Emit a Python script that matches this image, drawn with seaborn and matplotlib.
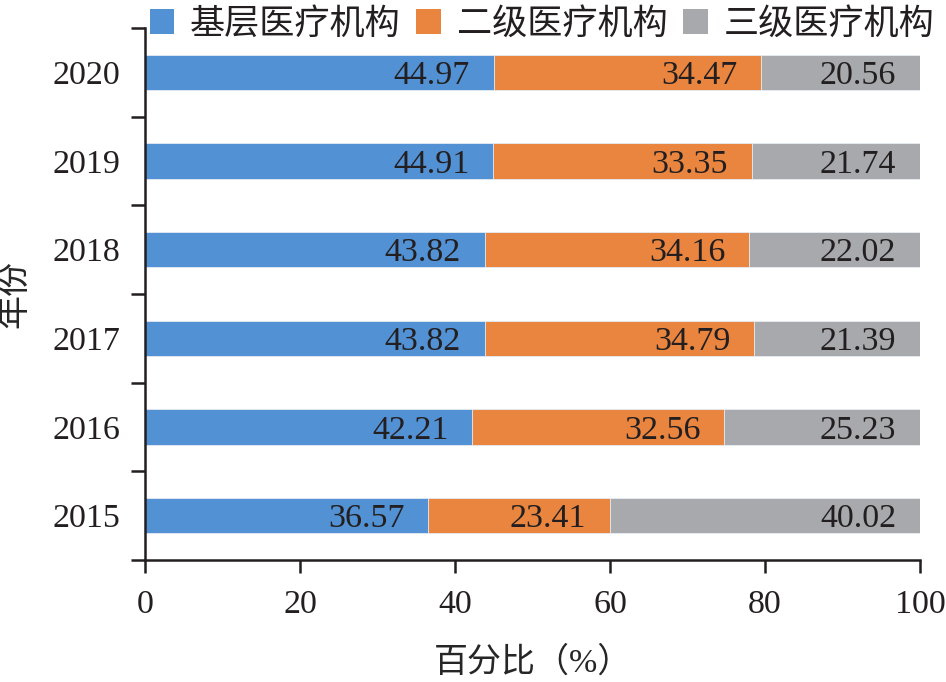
import matplotlib
matplotlib.use("Agg")
import matplotlib.pyplot as plt
from matplotlib.patches import Patch
import numpy as np
import pandas as pd
import seaborn as sns

years = ['2020', '2019', '2018', '2017', '2016', '2015']
primary = [44.97, 44.91, 43.82, 43.82, 42.21, 36.57]
secondary = [34.47, 33.35, 34.16, 34.79, 32.56, 23.41]
tertiary = [20.56, 21.74, 22.02, 21.39, 25.23, 40.02]
series_names = ['基层医疗机构', '二级医疗机构', '三级医疗机构']
colors = ['#5291D3', '#E9853F', '#A7A9AC']

df = pd.DataFrame({'year': years, 'primary': primary,
                   'secondary': secondary, 'tertiary': tertiary})
df['end1'] = df['primary']
df['end2'] = df['primary'] + df['secondary']
df['end3'] = df['end2'] + df['tertiary']

sns.set_style("white")
plt.rcParams['font.family'] = ['Liberation Serif', 'Noto Sans CJK SC', 'DejaVu Sans']
plt.rcParams['text.color'] = '#231F20'

fig = plt.figure(figsize=(9.46, 6.82), dpi=100)
ax = fig.add_axes([0.1533, 0.1789, 0.8192, 0.7800])

# stacked look: draw the longest bar first, shorter ones on top
for col, c in zip(['end3', 'end2', 'end1'], colors[::-1]):
    sns.barplot(data=df, x=col, y='year', order=years, color=c, width=0.4,
                saturation=1, errorbar=None, edgecolor='#E8EEF6', linewidth=0.6, ax=ax)

for i, row in df.iterrows():
    for val, end in [(row['primary'], row['end1']), (row['secondary'], row['end2']),
                     (row['tertiary'], row['end3'])]:
        ax.annotate(f'{val:.2f}', xy=(end, years.index(row['year'])), xytext=(-17, 0),
                    textcoords='offset points', ha='right', va='center_baseline',
                    fontsize=24.5, color='#231F20')

ax.set_xlim(0, 100)
ax.set_ylim(5.5, -0.5)
ax.set_xticks(np.arange(0, 101, 20))
ax.set_yticks(np.arange(-0.5, 6, 1), minor=True)
ax.tick_params(axis='x', bottom=True, direction='out', length=9.5, width=1.8, pad=12,
               labelsize=24.5, colors='#231F20')
ax.tick_params(axis='y', which='major', left=True, length=0, pad=18, labelsize=24.5,
               colors='#231F20')
ax.tick_params(axis='y', which='minor', left=True, direction='out', length=10, width=1.8,
               color='#231F20')

for s in ['top', 'right']:
    ax.spines[s].set_visible(False)
for s in ['left', 'bottom']:
    ax.spines[s].set_linewidth(1.8)
    ax.spines[s].set_color('#231F20')

ax.set_xlabel('百分比（%）', fontsize=24.5, labelpad=19)
ax.set_ylabel('年份', fontsize=24.5, labelpad=16)

handles = [Patch(facecolor=c, edgecolor='none') for c in colors]
fig.legend(handles, series_names, loc='center', bbox_to_anchor=(0.573, 0.963), ncol=3,
           frameon=False, fontsize=25.3, handlelength=0.7, handleheight=0.7,
           handletextpad=0.45, columnspacing=0.45, borderaxespad=0, borderpad=0)

fig.savefig('out.png', dpi=100)
